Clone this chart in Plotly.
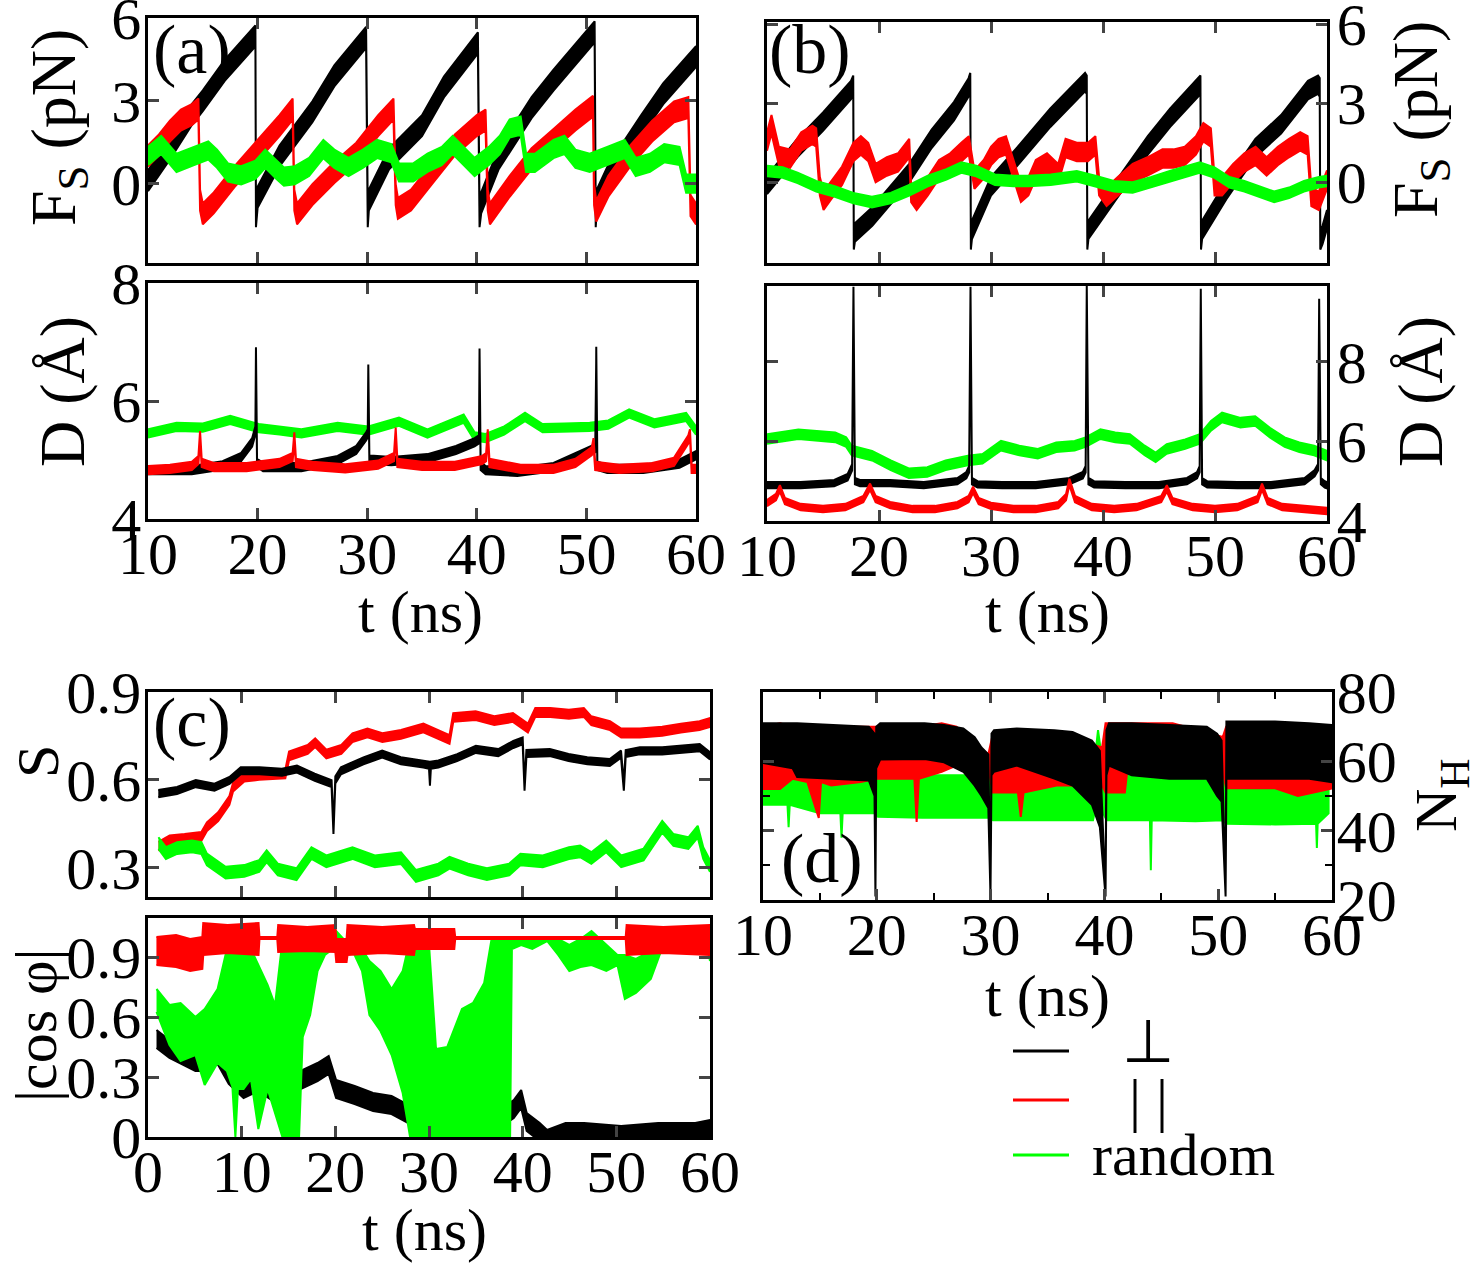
import plotly.graph_objects as go

W, H = 1484, 1263
BLACK, RED, GREEN = "#000000", "#ff0000", "#00ff00"
FONT = "Liberation Serif"

# ---------------- (a) top : F_S (pN) ----------------
a_fs_t_black = [10, 12, 14, 15, 17, 19, 19.8, 19.85, 20.0, 22, 25, 27, 29.9, 30.05, 30.15, 32, 35, 37, 40.1, 40.25, 40.4,
                42, 45, 47, 50.75, 50.85, 50.95, 52, 55, 57, 60]
a_fs_black = [0.1, 1.25, 2.5, 3.0, 4.1, 5.0, 5.35, -1.2, -0.5, 1.0, 2.6, 3.9, 5.3, -1.2, -0.6, 0.9, 2.1, 3.5, 5.1, -1.2, -0.7,
              0.9, 2.75, 3.75, 5.5, -1.2, -0.6, 0.3, 2.1, 3.25, 4.6]
a_fs_t_red = [10, 11, 12, 13, 14, 14.6, 14.75, 15.0, 16, 18, 20, 22, 23.2, 23.35, 23.6, 25, 27, 29, 31, 32.4, 32.6, 32.8,
              34, 36, 38, 40, 40.8, 41.0, 41.2, 43, 45, 47, 49, 50.6, 50.7, 50.9, 52, 54, 56, 58, 59.3, 59.5, 60]
a_fs_red = [1.0, 1.4, 1.9, 2.3, 2.5, 2.7, -0.6, -1.1, -0.7, 0.3, 1.2, 2.1, 2.7, -0.6, -1.1, -0.4, 0.4, 1.1, 2.1, 2.7, -0.4, -0.9,
            -0.6, 0.4, 1.4, 2.1, 2.3, -0.6, -1.1, -0.1, 0.9, 1.6, 2.3, 2.8, -0.4, -1.0, -0.1, 1.0, 1.9, 2.6, 2.75, -0.8, -1.1]
a_fs_t_green = [10, 11.2, 12.6, 14.2, 15.5, 16.3, 17.3, 18.5, 19.8, 20.7, 21.7, 22.4, 23.4, 24.7, 26.0, 27.0, 28.3, 29.6, 30.9,
                32.2, 32.9, 34.2, 35.5, 36.8, 37.8, 38.8, 39.8, 41.1, 42.1, 43.0, 44.0, 44.5, 45.3, 47.0, 48.0, 49.0, 50.3,
                51.9, 53.5, 54.5, 55.8, 57.1, 58.5, 59.1, 60]
a_fs_green = [1.0, 1.4, 0.75, 1.0, 1.2, 0.9, 0.4, 0.3, 0.5, 0.9, 0.5, 0.25, 0.3, 0.6, 1.25, 0.9, 0.6, 0.9, 1.25, 1.1, 0.4, 0.4,
              0.75, 1.0, 1.4, 1.0, 0.6, 1.0, 1.4, 2.0, 2.1, 0.75, 0.75, 1.25, 1.4, 0.9, 0.75, 1.0, 1.25, 0.6, 0.75, 1.1, 1.0,
              0.0, 0.0]

# ---------------- (a) bottom : D (Å) ----------------
a_d_t_black = [10, 14, 16.8, 18.5, 19.5, 19.8, 19.85, 19.95, 20.5, 24.0, 27.3, 29.0, 29.9, 30.05, 30.1, 30.2, 30.6, 32.2,
               35.5, 38.1, 39.8, 40.2, 40.25, 40.35, 40.8, 43.7, 47.0, 49.6, 50.8, 50.85, 50.9, 51.0, 51.9, 55.2, 58.5, 60]
a_d_black = [4.83, 4.83, 4.91, 5.05, 5.3, 5.5, 6.84, 4.95, 4.88, 4.88, 5.0, 5.17, 5.4, 5.45, 6.55, 5.0, 5.0, 4.98, 5.03,
             5.17, 5.3, 5.35, 6.82, 4.9, 4.83, 4.8, 4.88, 5.1, 5.2, 5.25, 6.85, 4.9, 4.85, 4.85, 4.94, 5.08]
a_d_t_red = [10, 12, 14, 14.6, 14.75, 14.9, 16, 19, 22, 23.2, 23.35, 23.5, 25, 28, 31, 32.45, 32.6, 32.75, 35, 38, 40.5,
             40.85, 41.0, 41.15, 44, 47, 49, 50.5, 50.65, 50.8, 53, 56, 58, 59.3, 59.45, 59.6, 60]
a_d_red = [4.83, 4.85, 4.9, 5.0, 5.42, 4.95, 4.88, 4.88, 4.95, 5.05, 5.4, 4.95, 4.9, 4.86, 4.92, 5.05, 5.48, 4.95, 4.9, 4.9,
           5.0, 5.05, 5.45, 4.95, 4.85, 4.85, 4.95, 5.15, 5.3, 4.9, 4.85, 4.88, 4.97, 5.35, 5.45, 4.85, 4.85]
a_d_t_green = [10, 12.6, 15, 17.5, 20.1, 22, 24.0, 27.3, 30.1, 32.9, 35.5, 38.8, 39.8, 40.8, 42.5, 44.4, 46.0, 48, 50.3, 52,
               53.9, 56.2, 59.1, 60]
a_d_green = [5.45, 5.56, 5.55, 5.68, 5.54, 5.5, 5.45, 5.56, 5.5, 5.65, 5.45, 5.7, 5.4, 5.37, 5.5, 5.73, 5.54, 5.55, 5.56,
             5.6, 5.79, 5.62, 5.73, 5.5]

# ---------------- (b) top : F_S (pN) ----------------
b_fs_t_black = [10, 12.7, 15, 17.5, 17.7, 17.75, 17.85, 19.4, 22.7, 24.7, 26.7, 28.0, 28.15, 28.2, 28.3, 30, 32.7, 35.3,
                38.4, 38.55, 38.6, 38.7, 41, 44, 46, 48.5, 48.7, 48.75, 48.85, 51, 53.6, 55.9, 58.3, 59.2, 59.35, 59.4,
                59.6, 60]
b_fs_black = [-0.1, 1.3, 2.3, 3.5, 3.7, -2.2, -1.9, -1.3, 0.35, 1.65, 2.7, 3.6, 3.8, -2.2, -1.8, -0.15, 1.15, 2.45, 3.8,
              3.7, -2.2, -1.8, -0.4, 1.4, 2.45, 3.6, 3.7, -2.2, -1.8, -0.3, 1.3, 2.2, 3.5, 3.7, 3.6, -2.2, -2.0, -1.4]
b_fs_t_red = [10, 10.4, 11.06, 12.06, 13.06, 14.06, 14.39, 14.72, 15.05, 15.72, 16.7, 17.71, 18.38, 19.04, 19.7, 20.7, 21.7,
              22.7, 22.87, 23.36, 24.36, 25.36, 26.36, 27.35, 28.02, 28.52, 29.35, 30.01, 30.68, 31.34, 32.0, 32.67, 33.34,
              34.0, 35.0, 36.0, 36.66, 37.66, 38.66, 39.32, 39.65, 40.32, 41.32, 42.65, 43.98, 45.31, 46.3, 47.3, 48.3,
              48.96, 49.63, 49.96, 50.63, 51.62, 52.62, 53.62, 54.61, 55.61, 56.61, 57.61, 58.27, 58.6, 59.27, 60]
b_fs_red = [1.55, 2.2, 1.0, 0.9, 1.55, 1.8, 1.7, -0.15, -0.7, -0.3, 0.25, 1.15, 1.4, 1.15, 0.35, 0.6, 0.75, 1.3, -0.4, -0.7,
            -0.15, 0.5, 0.75, 1.15, 1.4, 0.1, 0.5, 1.0, 1.3, 1.4, 0.5, -0.4, -0.15, 0.5, 0.75, 0.35, 1.3, 1.15, 1.15, 1.4,
            -0.15, -0.55, -0.15, 0.35, 0.6, 0.9, 0.9, 1.0, 1.4, 1.9, 1.7, -0.15, -0.15, 0.35, 0.75, 1.0, 0.6, 1.0, 1.3,
            1.55, 1.4, -0.55, -0.7, 0.1]
b_fs_t_green = [10, 11.4, 12.73, 14.39, 16.05, 17.71, 19.37, 21.04, 22.7, 24.36, 26.02, 27.35, 28.68, 30.35, 32.0, 33.34,
                35.33, 37.66, 39.32, 40.98, 42.65, 44.31, 45.97, 47.63, 48.63, 49.96, 51.29, 52.62, 53.95, 55.28, 56.61,
                57.94, 59.27, 60]
b_fs_green = [0.43, 0.37, 0.17, -0.15, -0.35, -0.6, -0.75, -0.6, -0.3, 0.05, 0.3, 0.56, 0.43, 0.1, 0.05, 0.05, 0.1, 0.23,
              0.05, -0.15, -0.2, 0.0, 0.23, 0.43, 0.56, 0.37, 0.0, -0.15, -0.35, -0.55, -0.4, -0.15, 0.0, 0.05]

# ---------------- (b) bottom : D (Å) ----------------
b_d_t_black = [10, 13, 16, 17.2, 17.6, 17.72, 17.85, 18.3, 21, 24, 27, 27.8, 28.05, 28.17, 28.3, 28.8, 31, 34, 37, 38.2,
               38.45, 38.55, 38.7, 39.2, 42, 45, 47.5, 48.4, 48.63, 48.73, 48.85, 49.3, 52, 55, 58, 58.9, 59.2, 59.3,
               59.45, 59.8, 60]
b_d_black = [4.9, 4.9, 4.95, 5.1, 5.35, 9.8, 5.0, 4.95, 4.95, 4.9, 5.0, 5.15, 5.3, 9.8, 5.0, 4.92, 4.9, 4.9, 5.0, 5.15, 5.3,
             9.85, 5.0, 4.92, 4.9, 4.9, 5.0, 5.15, 5.3, 9.75, 5.0, 4.92, 4.9, 4.9, 5.0, 5.2, 5.35, 9.5, 5.0, 4.92, 4.9]
b_d_t_red = [10, 10.8, 11.15, 11.6, 13, 15, 17, 18.6, 19.2, 19.7, 21, 23, 25, 27, 28.0, 28.4, 28.9, 30, 32, 34, 36, 36.7,
             37.0, 37.5, 39, 41, 43, 45.2, 45.7, 46.2, 48, 50, 52, 53.8, 54.2, 54.7, 56, 58, 60]
b_d_red = [4.45, 4.6, 4.82, 4.5, 4.35, 4.3, 4.35, 4.55, 4.86, 4.55, 4.4, 4.3, 4.3, 4.4, 4.55, 4.78, 4.5, 4.38, 4.3, 4.3,
           4.4, 4.6, 4.98, 4.55, 4.35, 4.3, 4.35, 4.55, 4.82, 4.5, 4.35, 4.3, 4.35, 4.55, 4.86, 4.5, 4.35, 4.3, 4.25]
b_d_t_green = [10, 12.8, 16.09, 17.07, 17.57, 19.38, 21.05, 22.66, 24.31, 25.95, 27.93, 29.24, 30.89, 32.53, 34.18, 35.82,
               37.47, 38.45, 39.77, 41.09, 42.4, 43.72, 44.7, 45.69, 47.34, 48.65, 49.64, 50.63, 52.27, 53.59, 54.9,
               56.22, 57.53, 58.85, 60]
b_d_green = [6.06, 6.18, 6.1, 5.98, 5.77, 5.64, 5.4, 5.2, 5.23, 5.4, 5.52, 5.56, 5.89, 5.77, 5.69, 5.85, 5.89, 5.98, 6.18,
             6.1, 6.06, 5.77, 5.6, 5.81, 5.93, 6.06, 6.39, 6.6, 6.47, 6.51, 6.22, 5.98, 5.85, 5.77, 5.64]

# ---------------- (c) top : S ----------------
c_s_t_black = [1.1, 3.1, 5.1, 7.1, 8.7, 9.9, 11.9, 14.3, 15.9, 17.8, 19.6, 19.8, 20.0, 20.6, 23.0, 25.0, 27.0, 29.4, 30.0,
               30.1, 30.2, 31.0, 33.0, 35.0, 37.4, 39.0, 40.0, 40.2, 40.4, 42.9, 44.9, 46.9, 49.3, 50.5, 50.8, 51.0, 52.5,
               54.9, 56.9, 58.9, 60]
c_s_black = [0.553, 0.564, 0.587, 0.575, 0.598, 0.631, 0.631, 0.626, 0.637, 0.609, 0.587, 0.427, 0.6, 0.631, 0.665, 0.688,
             0.665, 0.654, 0.65, 0.592, 0.65, 0.654, 0.676, 0.704, 0.693, 0.721, 0.733, 0.575, 0.69, 0.693, 0.676, 0.665,
             0.659, 0.688, 0.575, 0.69, 0.699, 0.699, 0.704, 0.71, 0.682]
c_s_t_red = [1.12, 2.31, 3.9, 5.7, 6.29, 7.49, 8.69, 9.08, 10.28, 11.87, 14.66, 15.06, 17.05, 17.85, 19.04, 20.64, 21.83,
             23.43, 25.02, 27.01, 29.4, 31.0, 32.19, 32.59, 34.98, 36.97, 38.96, 40.56, 41.35, 42.95, 44.94, 46.53, 47.33,
             49.32, 50.52, 52.51, 54.9, 56.89, 58.88, 60]
c_s_red = [0.373, 0.395, 0.4, 0.407, 0.44, 0.474, 0.53, 0.575, 0.609, 0.615, 0.62, 0.682, 0.704, 0.727, 0.688, 0.704,
           0.744, 0.76, 0.744, 0.755, 0.777, 0.755, 0.738, 0.813, 0.819, 0.802, 0.813, 0.777, 0.83, 0.83, 0.824, 0.83,
           0.802, 0.785, 0.76, 0.76, 0.766, 0.777, 0.785, 0.796]
c_s_t_green = [1.12, 1.91, 3.11, 4.7, 5.7, 6.29, 8.29, 10.28, 11.87, 12.67, 13.86, 15.86, 17.45, 19.04, 21.83, 24.22, 27.01,
               28.61, 31.0, 32.19, 34.18, 36.18, 38.57, 39.76, 42.15, 44.94, 46.14, 47.33, 48.92, 50.52, 52.91, 54.9,
               56.1, 57.69, 58.69, 59.28, 60]
c_s_green = [0.384, 0.35, 0.367, 0.373, 0.367, 0.328, 0.283, 0.289, 0.306, 0.339, 0.294, 0.278, 0.35, 0.322, 0.35, 0.322,
             0.333, 0.272, 0.294, 0.317, 0.294, 0.278, 0.294, 0.328, 0.322, 0.35, 0.356, 0.333, 0.373, 0.322, 0.345, 0.44,
             0.395, 0.384, 0.423, 0.35, 0.306]

# ---------------- (c) bottom : |cos phi| ----------------
c_cos_t_black = [0.91, 2.29, 3.48, 5.06, 6.25, 7.43, 8.62, 10.2, 11.78, 13.36, 14.94, 16.52, 18.1, 19.29, 20.08, 22.06,
                 24.03, 26.0, 27.98, 29.96, 32.73, 34.7, 37.08, 39.05, 39.84, 40.43, 41.82, 42.61, 44.58, 46.56, 50.51,
                 54.47, 58.42, 60]
c_cos_black = [0.49, 0.44, 0.41, 0.375, 0.375, 0.41, 0.31, 0.24, 0.275, 0.225, 0.26, 0.29, 0.325, 0.36, 0.24, 0.21, 0.175,
               0.16, 0.11, 0.09, 0.09, 0.075, 0.075, 0.14, 0.19, 0.075, 0.025, -0.01, 0.025, 0.025, 0.01, 0.025, 0.025,
               0.04]
c_cos_t_red = [0.9, 3.0, 4.5, 5.8, 5.9, 8.5, 11.8, 11.9, 13.8, 13.9, 17.0, 20.0, 20.1, 21.2, 21.3, 25.0, 28.4, 28.5, 32.7,
               32.8, 51.0, 51.1, 55.0, 60]
c_cos_red_lo = [0.86, 0.85, 0.83, 0.84, 0.91, 0.92, 0.91, 0.99, 0.99, 0.925, 0.93, 0.925, 0.875, 0.875, 0.91, 0.92, 0.91,
                0.94, 0.94, 0.99, 0.99, 0.91, 0.92, 0.91]
c_cos_red_hi = [1.0, 1.01, 0.99, 1.0, 1.07, 1.06, 1.07, 1.0, 1.0, 1.06, 1.05, 1.06, 0.99, 0.99, 1.06, 1.05, 1.06, 1.04,
                1.04, 1.0, 1.0, 1.06, 1.05, 1.06]
c_cos_t_green = [0.91, 2.29, 3.48, 5.06, 6.05, 7.43, 8.42, 9.01, 9.33, 9.6, 10.2, 10.99, 11.78, 12.77, 13.56, 14.35, 16.13,
                 16.52, 17.31, 18.1, 18.89, 19.68, 20.87, 22.06, 22.85, 23.64, 24.82, 26.01, 27.19, 27.98, 29.96, 30.75,
                 31.94, 33.52, 34.7, 35.89, 36.68, 38.66, 38.85, 39.84, 41.03, 42.61, 43.79, 44.98, 46.17, 47.35, 48.93,
                 50.12, 50.91, 52.09, 53.68, 54.86, 56.44, 58.42, 59.6, 60]
c_cos_green_lo = [0.625, 0.46, 0.38, 0.41, 0.26, 0.37, 0.33, 0.25, 0.0, 0.24, 0.24, 0.29, 0.04, 0.24, 0.125, 0.0, 0.0, 0.5,
                  0.61, 0.83, 0.91, 0.94, 0.98, 0.91, 0.83, 0.61, 0.53, 0.41, 0.22, 0.0, 0.0, 0.0, 0.0, 0.0, 0.0, 0.0, 0.0,
                  0.0, 0.94, 0.96, 0.94, 0.98, 0.91, 0.83, 0.85, 0.86, 0.83, 0.86, 0.69, 0.72, 0.79, 0.94, 0.95, 0.96,
                  0.98, 0.88]
c_cos_green_hi = [0.74, 0.66, 0.67, 0.6, 0.64, 0.74, 0.94, 0.99, 0.99, 0.97, 0.91, 0.94, 0.86, 0.76, 0.66, 0.98, 0.99, 0.99,
                  0.99, 1.0, 0.99, 1.05, 0.99, 0.98, 0.94, 0.88, 0.83, 0.74, 0.83, 0.99, 0.99, 0.44, 0.45, 0.64, 0.67,
                  0.77, 0.99, 0.99, 0.99, 1.0, 0.99, 1.0, 0.99, 0.96, 0.99, 1.03, 0.96, 0.91, 0.91, 0.89, 0.93, 0.96, 0.96,
                  0.97, 0.99, 0.97]

# ---------------- (d) : N_H ----------------
d_t_black = [10, 12.6, 13, 19.3, 19.8, 19.88, 19.95, 20.3, 24.2, 25.9, 27.6, 28.6, 29.2, 29.8, 29.99, 30.08, 30.3, 32.3,
             35.6, 37.2, 38.9, 39.6, 40.1, 40.18, 40.4, 42.4, 45.7, 49.0, 49.9, 50.3, 50.65, 50.72, 51.2, 55, 58, 60]
d_black_lo = [59.5, 58, 55.5, 54.5, 50, 21, 58, 60.5, 60.7, 59.7, 57, 53, 50, 46.5, 21, 56, 57, 58.8, 55, 53, 47.5, 41, 21,
              56, 58.8, 56, 55, 55, 50, 48.4, 21, 55, 55, 55, 55, 54]
d_black_hi = [71, 71, 71, 70, 68, 22, 70, 71, 71, 70.5, 69.5, 67, 64, 62, 22, 68, 69, 69.5, 69, 68.5, 66, 63, 22, 69, 71,
              71, 70.5, 70, 68, 66, 22, 71.5, 71.5, 71.5, 71, 70.5]
d_t_red = [10, 11.5, 12.6, 13.9, 14.9, 15.1, 16, 18.6, 19.9, 20.0, 23.3, 23.5, 23.7, 25.7, 27, 29.8, 30.2, 32.4, 32.65,
           32.9, 35.8, 39.8, 40.1, 41.8, 42, 46, 50.4, 50.7, 55, 57, 60]
d_red_lo = [52, 52, 55, 54, 43.7, 54, 53, 54, 55, 55, 55, 42.5, 55, 57, 58.8, 58, 51, 51, 44, 51, 53, 53, 51, 51, 57, 57,
            57, 52.2, 52.2, 50, 52.2]
d_red_hi = [70, 71, 70, 70, 70, 70, 70, 70, 70, 70, 70, 70, 70, 71, 70, 62, 68, 69, 69, 69, 68, 64, 71, 71, 71, 71, 67, 70,
            71, 71, 70]
d_t_green = [10, 12.15, 12.25, 12.35, 15, 16.8, 16.9, 17.0, 19.85, 20.1, 24, 29.8, 30.2, 35, 39.0, 39.44, 39.9, 40.2, 44.0,
             44.08, 44.16, 48, 50.4, 50.7, 55, 58.6, 58.67, 58.74, 59.7]
d_green_lo = [47.5, 47.5, 41, 47.5, 45, 45, 38, 45, 45, 44, 43.7, 43.7, 43, 43, 43, 50, 45, 43, 43, 28.6, 43, 42.7, 43, 42,
              41.8, 42, 35, 42, 45]
d_green_hi = [60, 60, 60, 60, 60, 60, 60, 60, 60, 56, 56, 56, 55, 55, 56, 69, 58, 57.8, 57.8, 57.8, 57.8, 57.8, 57.8, 57,
              57, 57, 57, 57, 57]

spread = {"a_fs": 0.38, "a_fs_g": 0.33, "a_d": 0.07, "a_d_g": 0.07, "b_fs": 0.35, "b_fs_g": 0.2,
          "b_d": 0.08, "b_d_g": 0.12, "c_s_k": 0.012, "c_s_r": 0.015, "c_s_g": 0.02, "c_cos_k": 0.045}

# tick labels
fs_ticks = [0, 3, 6]
d_ticks = [4, 6, 8]
t_ticks_10 = [10, 20, 30, 40, 50, 60]
t_ticks_0 = [0, 10, 20, 30, 40, 50, 60]
s_ticks = [0.3, 0.6, 0.9]
cos_ticks = [0, 0.3, 0.6, 0.9]
cos_ticktext = ["0", "0.3", "0.6", "0.9"]
nh_ticks = [20, 40, 60, 80]

fig = go.Figure()


def add_poly(t, lo, hi, color, n):
    xs = list(t) + list(t)[::-1]
    ys = list(hi) + list(lo)[::-1]
    sx = "x" if n == 1 else "x%d" % n
    sy = "y" if n == 1 else "y%d" % n
    fig.add_trace(go.Scatter(x=xs, y=ys, fill="toself", fillcolor=color, mode="lines",
                             line=dict(color=color, width=2), xaxis=sx, yaxis=sy,
                             hoverinfo="skip", showlegend=False))


def add_band(t, c, hw, color, n):
    add_poly(t, [v - hw for v in c], [v + hw for v in c], color, n)


# (a) top
add_band(a_fs_t_black, a_fs_black, spread["a_fs"], BLACK, 1)
add_band(a_fs_t_red, a_fs_red, spread["a_fs"], RED, 1)
add_band(a_fs_t_green, a_fs_green, spread["a_fs_g"], GREEN, 1)
# (a) bottom
add_band(a_d_t_green, a_d_green, spread["a_d_g"], GREEN, 2)
add_band(a_d_t_black, a_d_black, spread["a_d"], BLACK, 2)
add_band(a_d_t_red, a_d_red, spread["a_d"], RED, 2)
# (b) top
add_band(b_fs_t_black, b_fs_black, spread["b_fs"], BLACK, 3)
add_band(b_fs_t_red, b_fs_red, spread["b_fs"], RED, 3)
add_band(b_fs_t_green, b_fs_green, spread["b_fs_g"], GREEN, 3)
# (b) bottom
add_band(b_d_t_green, b_d_green, spread["b_d_g"], GREEN, 4)
add_band(b_d_t_black, b_d_black, spread["b_d"], BLACK, 4)
add_band(b_d_t_red, b_d_red, spread["b_d"], RED, 4)
# (c) top
add_band(c_s_t_red, c_s_red, spread["c_s_r"], RED, 5)
add_band(c_s_t_green, c_s_green, spread["c_s_g"], GREEN, 5)
add_band(c_s_t_black, c_s_black, spread["c_s_k"], BLACK, 5)
# (c) bottom
add_band(c_cos_t_black, c_cos_black, spread["c_cos_k"], BLACK, 6)
add_poly(c_cos_t_green, c_cos_green_lo, c_cos_green_hi, GREEN, 6)
add_poly(c_cos_t_red, c_cos_red_lo, c_cos_red_hi, RED, 6)
# (d)
add_poly(d_t_green, d_green_lo, d_green_hi, GREEN, 7)
add_poly(d_t_red, d_red_lo, d_red_hi, RED, 7)
add_poly(d_t_black, d_black_lo, d_black_hi, BLACK, 7)


def xdom(x0, x1):
    return [x0 / W, x1 / W]


def ydom(y0, y1):
    return [1 - y1 / H, 1 - y0 / H]


TF = dict(family=FONT, size=60, color="black")


def axis(dom, rng, vals, text=None, labels=True, side=None, anchor=None, minor=None, standoff=0):
    d = dict(domain=dom, range=rng, tickmode="array", tickvals=vals,
             ticktext=text if text is not None else [str(v) for v in vals],
             showticklabels=labels, ticks="inside", ticklen=11, tickwidth=2.5,
             showline=True, linewidth=2.5, linecolor="black", mirror="ticks",
             showgrid=False, zeroline=False, tickfont=TF, anchor=anchor, automargin=False,
             ticklabeloverflow="allow", ticklabelstandoff=standoff)
    if side:
        d["side"] = side
    if minor:
        d["minor"] = dict(tickvals=minor, ticks="inside", ticklen=7, tickwidth=2, tickcolor="black")
    return d


layout = dict(width=W, height=H, margin=dict(l=0, r=0, t=0, b=0, pad=0), template="none",
              plot_bgcolor="white", paper_bgcolor="white", showlegend=False)

XS, YL, YR = -20, -8, -5
# (a)
layout["xaxis"] = axis(xdom(148, 696), [10, 60], t_ticks_10, labels=False, anchor="y")
layout["yaxis"] = axis(ydom(18, 263), [-2.88, 6], fs_ticks, anchor="x", standoff=YL)
layout["xaxis2"] = axis(xdom(148, 696), [10, 60], t_ticks_10, anchor="y2", standoff=XS)
layout["yaxis2"] = axis(ydom(283, 519), [4, 8], d_ticks, anchor="x2", standoff=YL)
# (b)
layout["xaxis3"] = axis(xdom(767, 1327), [10, 60], t_ticks_10, labels=False, anchor="y3")
layout["yaxis3"] = axis(ydom(22, 263), [-3.06, 6.08], fs_ticks, side="right", anchor="x3", standoff=YR)
layout["xaxis4"] = axis(xdom(767, 1327), [10, 60], t_ticks_10, anchor="y4", standoff=XS)
layout["yaxis4"] = axis(ydom(286, 521), [4.0, 9.9], d_ticks, side="right", anchor="x4", standoff=YR)
# (c)
layout["xaxis5"] = axis(xdom(148, 710), [0, 60], t_ticks_0, labels=False, anchor="y5")
layout["yaxis5"] = axis(ydom(692, 897), [0.2, 0.9], s_ticks, anchor="x5", standoff=YL)
layout["xaxis6"] = axis(xdom(148, 710), [0, 60], t_ticks_0, anchor="y6", standoff=XS)
layout["yaxis6"] = axis(ydom(918, 1137), [0, 1.095], cos_ticks, text=cos_ticktext, anchor="x6", standoff=YL)
# (d)
layout["xaxis7"] = axis(xdom(763, 1332), [10, 60], t_ticks_10, anchor="y7",
                        minor=[15, 25, 35, 45, 55], standoff=XS)
layout["yaxis7"] = axis(ydom(692, 900), [20, 80], nh_ticks, side="right", anchor="x7",
                        minor=[30, 50, 70], standoff=-10)

fig.update_layout(**layout)


def ann(text, px, py, angle=0, size=60, xanchor="center"):
    fig.add_annotation(text=text, x=px / W, y=1 - py / H, xref="paper", yref="paper",
                       showarrow=False, textangle=angle, xanchor=xanchor, yanchor="middle",
                       font=dict(family=FONT, size=size, color="black"))


# axis titles
ann("F<sub>S</sub> (pN)", 58, 128, -90, size=64)
ann("D (Å)", 62, 392, -90, size=64)
ann("F<sub>S</sub> (pN)", 1420, 120, -90, size=64)
ann("D (Å)", 1420, 392, -90, size=64)
ann("S", 38, 762, -90)
ann("|cos φ|", 36, 1025, -90)
ann("N<sub>H</sub>", 1440, 795, -90)
ann("t (ns)", 421, 612)
ann("t (ns)", 1047, 612)
ann("t (ns)", 424, 1230)
ann("t (ns)", 1047, 996)
# panel labels
ann("(a)", 192, 50, size=70)
ann("(b)", 810, 50, size=70)
ann("(c)", 192, 722, size=70)
ann("(d)", 822, 858, size=70)

# legend
legend_items = [("⊥", BLACK, 1051, 1042), ("| |", RED, 1100, 1100), ("random", GREEN, 1155, 1155)]
for label, col, ly, ty in legend_items:
    fig.add_shape(type="line", xref="paper", yref="paper", x0=1013 / W, x1=1069 / W,
                  y0=1 - ly / H, y1=1 - ly / H, line=dict(color=col, width=3))
    ann(label, 1148 if label != "random" else 1183, ty)

fig.write_html("out.html")
